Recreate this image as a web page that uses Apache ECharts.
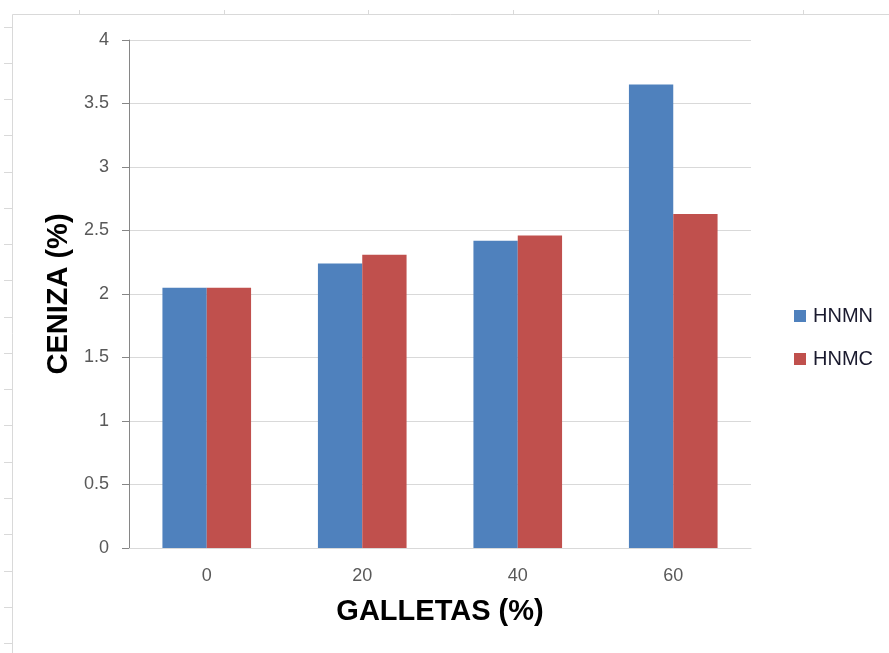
<!DOCTYPE html>
<html><head><meta charset="utf-8">
<script src="https://cdn.jsdelivr.net/npm/echarts@6/dist/echarts.min.js"></script>
<style>html,body{margin:0;padding:0;background:#fff}#c{width:889px;height:653px}</style>
</head><body><div id="c"></div>
<script>
const categories = ['0', '20', '40', '60'];
const hnmn = [2.05, 2.24, 2.42, 3.65];
const hnmc = [2.05, 2.31, 2.46, 2.63];
const seriesNames = ['HNMN', 'HNMC'];
const xTitle = 'GALLETAS (%)';
const yTitle = 'CENIZA (%)';

const chart = echarts.init(document.getElementById('c'), null, {renderer: 'canvas'});

// spreadsheet frame decorations
const deco = [];
deco.push({type: 'polyline', shape: {points: [[12.5, 653], [12.5, 14.5], [889, 14.5]]}, style: {stroke: '#d9d9d9', lineWidth: 1, fill: null}, silent: true});
[27, 63, 99, 135, 172, 208, 244, 280, 317, 353, 389, 425, 462, 498, 534, 571, 607, 643].forEach(y => {
  deco.push({type: 'line', shape: {x1: 4, y1: y + 0.5, x2: 12, y2: y + 0.5}, style: {stroke: '#d9d9d9', lineWidth: 1}, silent: true});
});
[79, 224, 368, 513, 658, 803].forEach(x => {
  deco.push({type: 'line', shape: {x1: x + 0.5, y1: 10, x2: x + 0.5, y2: 14}, style: {stroke: '#d9d9d9', lineWidth: 1}, silent: true});
});

chart.setOption({
  animation: false,
  backgroundColor: '#ffffff',
  textStyle: {fontFamily: 'Liberation Sans, Arial, sans-serif'},
  graphic: deco,
  legend: {
    orient: 'vertical',
    left: 789,
    top: 301,
    itemWidth: 12,
    itemHeight: 12,
    itemGap: 23,
    icon: 'rect',
    data: seriesNames,
    textStyle: {fontSize: 20, color: '#1a1a2e', fontFamily: 'Liberation Sans, Arial, sans-serif', padding: [0, 0, 0, 2]}
  },
  grid: {left: 129, right: 138, top: 40, bottom: 105, containLabel: false},
  xAxis: {
    type: 'category',
    data: categories,
    name: xTitle,
    nameLocation: 'middle',
    nameGap: 49,
    nameTextStyle: {fontSize: 29, fontWeight: 'bold', color: '#000'},
    axisLine: {lineStyle: {color: '#d9d9d9', width: 1}},
    axisTick: {show: false},
    axisLabel: {fontSize: 18, color: '#595959', margin: 19}
  },
  yAxis: {
    type: 'value',
    min: 0,
    max: 4,
    interval: 0.5,
    name: yTitle,
    nameLocation: 'middle',
    nameGap: 55,
    nameRotate: 90,
    nameTextStyle: {fontSize: 29, fontWeight: 'bold', color: '#000'},
    axisLine: {show: true, lineStyle: {color: '#868686', width: 1}},
    axisTick: {show: true, length: 7, lineStyle: {color: '#868686'}},
    axisLabel: {fontSize: 18, color: '#595959', margin: 20},
    splitLine: {lineStyle: {color: '#d9d9d9', width: 1}}
  },
  series: [
    {name: seriesNames[0], type: 'bar', data: hnmn, itemStyle: {color: '#4f81bd'}, barGap: '0%', barCategoryGap: '43%'},
    {name: seriesNames[1], type: 'bar', data: hnmc, itemStyle: {color: '#c0504d'}, barGap: '0%', barCategoryGap: '43%'}
  ]
});
</script></body></html>
